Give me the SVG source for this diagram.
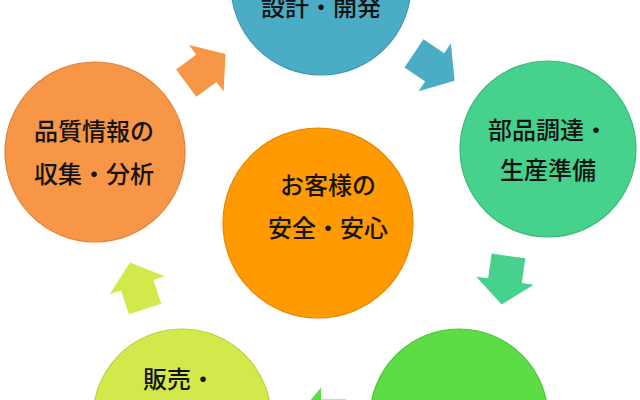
<svg xmlns="http://www.w3.org/2000/svg" xmlns:xlink="http://www.w3.org/1999/xlink" width="640" height="400" viewBox="0 0 640 400">
  <style>
    .lbl { font-family: "Noto Sans CJK JP", "Noto Sans CJK SC", sans-serif; font-size: 24px; font-weight: 500; fill: #141414; text-anchor: middle; dominant-baseline: central; }
    .c { stroke-width: 1.2; }
  </style>
  <defs>
    <path id="arrow" d="M -25 -17 L 0 -17 L 0 -29 L 24 0 L 0 29 L 0 17 L -25 17 Z"/>
  </defs>
  <rect x="0" y="0" width="640" height="400" fill="#ffffff"/>

  <g id="connectors">
    <use xlink:href="#arrow" href="#arrow" fill="#F79646" transform="translate(206.3,68.3) rotate(-36.6)"/>
    <use xlink:href="#arrow" href="#arrow" fill="#4BACC6" transform="translate(434.7,67.3) rotate(34)"/>
    <use xlink:href="#arrow" href="#arrow" fill="#46D18D" transform="translate(505,280.7) rotate(98)"/>
    <use xlink:href="#arrow" href="#arrow" fill="#5CDD46" transform="translate(321,416.5) rotate(180)"/>
    <use xlink:href="#arrow" href="#arrow" fill="#D3E94B" transform="translate(137.3,285.3) rotate(-108)"/>
  </g>

  <g id="node-design">
    <circle class="c" cx="321" cy="-15" r="90" fill="#4BACC6" stroke="#3f97ae"/>
    <text class="lbl" x="321" y="5">設計・開発</text>
  </g>

  <g id="node-procurement">
    <circle class="c" cx="548" cy="149" r="88" fill="#46D18D" stroke="#3bb97a"/>
    <text class="lbl" x="548" y="128">部品調達・</text>
    <text class="lbl" x="548" y="168">生産準備</text>
  </g>

  <g id="node-manufacturing">
    <circle class="c" cx="459" cy="418" r="89" fill="#5CDD46" stroke="#4dc23a"/>
  </g>

  <g id="node-sales">
    <circle class="c" cx="182" cy="418" r="89" fill="#D3E94B" stroke="#bcd13e"/>
    <text class="lbl" x="179" y="377">販売・</text>
  </g>

  <g id="node-quality">
    <circle class="c" cx="95" cy="152" r="90" fill="#F79646" stroke="#e0833a"/>
    <text class="lbl" x="94" y="129">品質情報の</text>
    <text class="lbl" x="94" y="172">収集・分析</text>
  </g>

  <g id="node-center">
    <circle class="c" cx="318" cy="223" r="95" fill="#FF9A00" stroke="#e88600"/>
    <text class="lbl" x="328" y="183">お客様の</text>
    <text class="lbl" x="328" y="226">安全・安心</text>
  </g>
</svg>
